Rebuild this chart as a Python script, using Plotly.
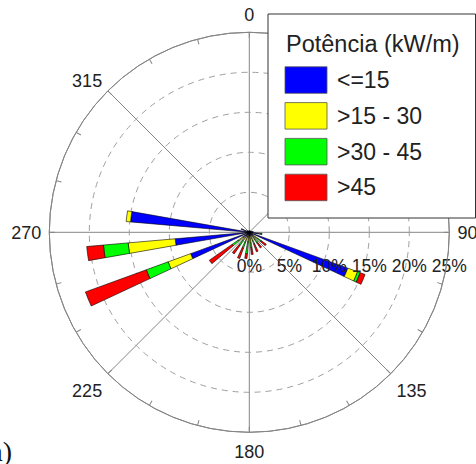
import plotly.graph_objects as go

# ---- data ----
directions = [7.5, 22.5, 37.5, 52.5, 67.5, 82.5, 97.5, 112.5, 127.5, 142.5, 157.5, 172.5,
              187.5, 202.5, 217.5, 232.5, 247.5, 262.5, 277.5, 292.5, 307.5, 322.5, 337.5, 352.5]
le15 =    [0.2, 0.2, 0.2, 0.2, 0.3, 0.5, 1.2, 13.1, 0.6, 0.5, 0.5, 0.5,
           0.4, 0.6, 0.6, 1.0, 7.8, 9.3, 14.9, 1.0, 0.3, 0.2, 0.2, 0.2]
p15_30 =  [0.0, 0.0, 0.0, 0.0, 0.0, 0.0, 0.2, 1.3, 0.7, 0.6, 0.6, 0.8,
           0.8, 0.7, 0.7, 0.7, 3.0, 5.9, 0.55, 0.1, 0.0, 0.0, 0.0, 0.0]
p30_45 =  [0.0, 0.0, 0.0, 0.0, 0.0, 0.0, 0.1, 0.35, 0.5, 0.5, 0.5, 0.6,
           1.5, 0.8, 0.7, 0.9, 2.9, 3.1, 0.0, 0.0, 0.0, 0.0, 0.0, 0.0]
gt45 =    [0.0, 0.0, 0.0, 0.0, 0.0, 0.0, 0.1, 0.65, 0.8, 0.8, 1.0, 0.9,
           0.6, 1.4, 1.3, 3.5, 8.1, 2.1, 0.0, 0.0, 0.0, 0.0, 0.0, 0.0]

series_names = ["<=15", ">15 - 30", ">30 - 45", ">45"]
series_values = [le15, p15_30, p30_45, gt45]
series_colors = ["#0000FF", "#FFFF00", "#00FF00", "#FF0000"]
legend_title = "Potência (kW/m)"

radial_ticks = [0, 5, 10, 15, 20, 25]
radial_ticktext = ["0%", "5%", "10%", "15%", "20%", "25%"]
angle_ticks = list(range(0, 360, 45))
minor_angle_ticks = list(range(0, 360, 15))

W, H = 476, 464
FONT = "Liberation Sans, Arial, sans-serif"
GRID = "#858585"

fig = go.Figure()
for name, vals, col in zip(series_names, series_values, series_colors):
    fig.add_trace(go.Barpolar(
        r=vals, theta=directions, width=5, name=name,
        marker=dict(color=col, line=dict(color="#000000", width=0.6)),
        showlegend=False, subplot="polar"))

# empty trace to activate overlay polar (minor angular ticks)
fig.add_trace(go.Barpolar(r=[], theta=[], subplot="polar2", showlegend=False))

cx, cy, R = 249.3, 232.3, 200
dom_x = [(cx - R) / W, (cx + R) / W]
dom_y = [(H - cy - R) / H, (H - cy + R) / H]

fig.update_layout(
    width=W, height=H,
    margin=dict(l=0, r=0, t=0, b=0),
    paper_bgcolor="white",
    font=dict(family=FONT, size=17, color="#222"),
    polar=dict(
        domain=dict(x=dom_x, y=dom_y),
        bgcolor="white",
        barmode="stack",
        angularaxis=dict(
            rotation=90, direction="clockwise",
            tickmode="array", tickvals=angle_ticks,
            ticktext=[str(a) for a in angle_ticks],
            ticks="outside", ticklen=4, tickcolor="rgba(0,0,0,0)",
            showgrid=True, gridcolor=GRID, gridwidth=1,
            showline=True, linecolor=GRID, linewidth=1,
            tickfont=dict(size=18, color="#222"),
        ),
        radialaxis=dict(
            range=[0, 25], tickmode="array", tickvals=radial_ticks,
            ticktext=radial_ticktext, angle=0, side="clockwise",
            showline=False, ticks="outside", ticklen=18,
            tickcolor="rgba(0,0,0,0)",
            showgrid=True, gridcolor="#a0a0a0", griddash="6px,5px", gridwidth=1,
            tickfont=dict(size=17.5, color="#222"), tickangle=0,
        ),
    ),
    polar2=dict(
        domain=dict(x=dom_x, y=dom_y),
        bgcolor="rgba(0,0,0,0)",
        angularaxis=dict(
            rotation=90, direction="clockwise",
            tickmode="array", tickvals=minor_angle_ticks,
            ticks="inside", ticklen=5, tickcolor=GRID,
            showticklabels=False, showgrid=False,
            showline=True, linecolor=GRID, linewidth=1,
        ),
        radialaxis=dict(visible=False, range=[0, 25]),
    ),
)

# ---- manual legend ----
def px_x(x):
    return x / W

def px_y(y):
    return 1 - y / H

fig.add_shape(type="rect", xref="paper", yref="paper",
              x0=px_x(268), x1=px_x(475.5), y0=px_y(218), y1=px_y(14),
              fillcolor="white", line=dict(color="#333", width=1), layer="above")
fig.add_annotation(x=px_x(284), y=px_y(44), xref="paper", yref="paper",
                   text=legend_title, showarrow=False, xanchor="left", yanchor="middle",
                   font=dict(size=23.5, family=FONT, color="#222"))
top0, step, sh = 66.8, 35.8, 26.5
for i, (name, col) in enumerate(zip(series_names, series_colors)):
    t = top0 + i * step
    fig.add_shape(type="rect", xref="paper", yref="paper",
                  x0=px_x(285), x1=px_x(327), y0=px_y(t + sh), y1=px_y(t),
                  fillcolor=col, line=dict(color="#555", width=0.8), layer="above")
    fig.add_annotation(x=px_x(335), y=px_y(t + sh / 2), xref="paper", yref="paper",
                       text=name, showarrow=False, xanchor="left", yanchor="middle",
                       font=dict(size=23, family=FONT, color="#222"))

# partial panel label at bottom-left
fig.add_annotation(x=px_x(14), y=px_y(451), xref="paper", yref="paper",
                   text="(a)", showarrow=False, xanchor="right", yanchor="middle",
                   font=dict(size=28, family="Liberation Serif, Times New Roman, serif", color="#111"))

fig.write_html("out.html", config={"displayModeBar": False},
               post_script="document.body.style.margin='0';")
